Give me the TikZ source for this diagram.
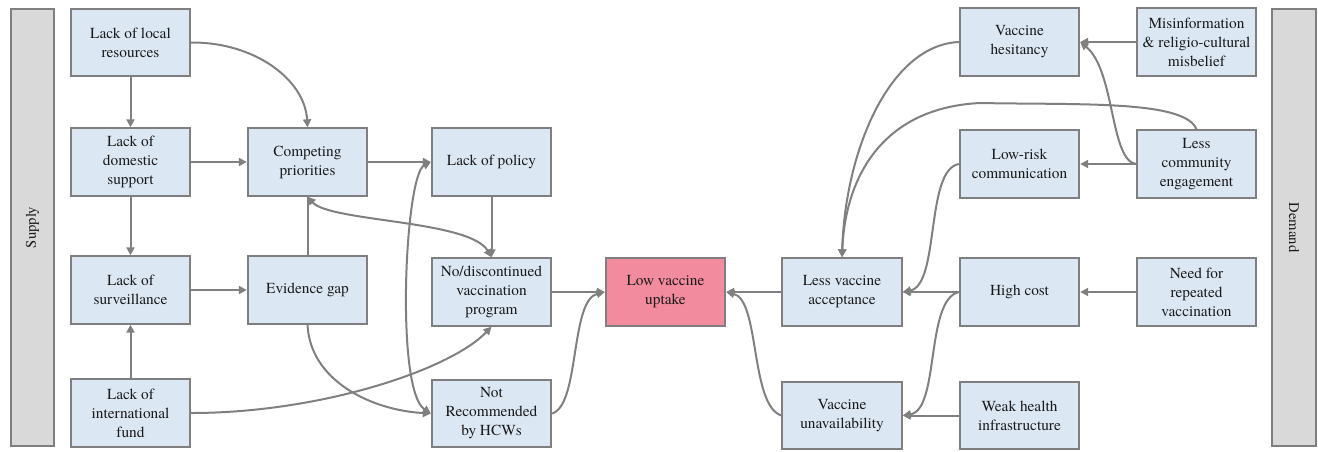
\documentclass[tikz,border=0pt]{standalone}
\usepackage{fontspec}
\setmainfont{texgyretermes}[Extension=.otf, UprightFont=*-regular, BoldFont=*-bold, ItalicFont=*-italic, BoldItalicFont=*-bolditalic]
\usetikzlibrary{arrows.meta}
\definecolor{boxfill}{HTML}{DCE7F4}
\definecolor{boxdraw}{HTML}{7F7F7F}
\definecolor{pinkfill}{HTML}{F28B9E}
\definecolor{barfill}{HTML}{D9D9D9}
\definecolor{edgecol}{HTML}{808080}
\definecolor{txt}{HTML}{1A1A1A}
\begin{document}
\begin{tikzpicture}[x=0.75pt,y=-0.75pt,
 box/.style={draw=boxdraw, fill=boxfill, line width=1.5pt, minimum width=89.5pt, minimum height=50.5pt, inner sep=0pt, align=center, font=\fontsize{11.5}{14.25}\selectfont, text=txt},
 bar/.style={draw=boxdraw, fill=barfill, line width=1.5pt, minimum height=32.5pt, inner sep=0pt, font=\fontsize{11}{13}\selectfont, text=txt},
 link/.style={draw=edgecol, line width=1.5pt, -{Triangle[length=6pt,width=6pt]}},
 both/.style={{Triangle[length=6pt,width=6pt]}-{Triangle[length=6pt,width=6pt]}},
 plain/.style={draw=edgecol, line width=1.5pt},
]
\useasboundingbox[fill=white] (0,0) rectangle (1318,451);

\node[bar, rotate=90, minimum width=328pt] (supply) at (32.5,227.5) {Supply};
\node[bar, rotate=-90, minimum width=328pt] (demand) at (1294,227.5) {Demand};

\node[box] (local) at (130.5,42.5) {Lack of local\\resources};
\node[box] (dom) at (130.5,162) {Lack of\\domestic\\support};
\node[box] (surv) at (130.5,290) {Lack of\\surveillance};
\node[box] (fund) at (130.5,413) {Lack of\\international\\fund};
\node[box] (comp) at (307.5,162) {Competing\\priorities};
\node[box] (evid) at (307.5,290) {Evidence gap};
\node[box] (policy) at (491.5,162) {Lack of policy};
\node[box] (nodisc) at (491.5,292) {No/discontinued\\vaccination\\program};
\node[box] (notrec) at (491.5,413.5) {Not\\Recommended\\by HCWs};
\node[box, fill=pinkfill] (low) at (665.5,292) {Low vaccine\\uptake};
\node[box] (acc) at (842,292) {Less vaccine\\acceptance};
\node[box] (unavail) at (842,415.5) {Vaccine\\unavailability};
\node[box] (hes) at (1019.5,42) {Vaccine\\hesitancy};
\node[box] (lowrisk) at (1019.5,164) {Low-risk\\communication};
\node[box] (high) at (1019.5,292) {High cost};
\node[box] (weak) at (1019.5,415.5) {Weak health\\infrastructure};
\node[box] (misinfo) at (1196.5,42) {Misinformation\\\& religio-cultural\\misbelief};
\node[box] (comm) at (1196.5,164) {Less\\community\\engagement};
\node[box] (need) at (1196.5,292) {Need for\\repeated\\vaccination};

% supply side
\draw[link] (local) -- (dom);
\draw[link] (local.east) .. controls (255,42) and (305,80) .. (comp.north);
\draw[link] (dom) -- (comp);
\draw[link] (dom) -- (surv);
\draw[link] (fund) -- (surv);
\draw[link] (surv) -- (evid);
\draw[plain] (evid) -- (comp);
\draw[link, both] (comp.south) .. controls (330,222) and (470,220) .. (nodisc.north);
\draw[link] (comp) -- (policy);
\draw[link] (policy) -- (nodisc);
\draw[link, both] (policy.west) .. controls (405,175) and (395,390) .. (notrec.west);
\draw[link] (evid.south) .. controls (310,380) and (370,410) .. (notrec.west);
\draw[link] (fund.east) .. controls (320,413) and (450,370) .. (nodisc.south);
\draw[link] (nodisc) -- (low);
\draw[link] (notrec.east) .. controls (580,405) and (570,300) .. (low.west);

% demand side
\draw[link] (acc) -- (low);
\draw[link] (unavail.west) .. controls (750,405) and (760,300) .. (low.east);
\draw[link] (hes.west) .. controls (890,45) and (845,150) .. (acc.north);
\draw[link] (comm.north) .. controls (1185,100) and (1080,105) .. (980,103) .. controls (880,108) and (845,180) .. (acc.north);
\draw[link] (comm.west) .. controls (1110,160) and (1115,70) .. (hes.east);
\draw[link] (misinfo) -- (hes);
\draw[link] (comm) -- (lowrisk);
\draw[link] (lowrisk.west) .. controls (925,170) and (940,285) .. (acc.east);
\draw[link] (high) -- (acc);
\draw[link] (high.west) .. controls (925,300) and (940,410) .. (unavail.east);
\draw[link] (need) -- (high);
\draw[link] (weak) -- (unavail);
\end{tikzpicture}
\end{document}
